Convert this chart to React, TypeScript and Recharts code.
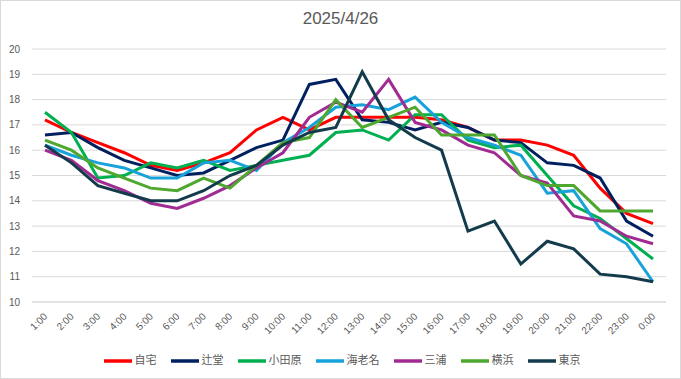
import React from 'react';
import { LineChart, Line, XAxis, YAxis, CartesianGrid, Legend } from 'recharts';

const hours = [
  '1:00', '2:00', '3:00', '4:00', '5:00', '6:00', '7:00', '8:00', '9:00', '10:00', '11:00', '12:00',
  '13:00', '14:00', '15:00', '16:00', '17:00', '18:00', '19:00', '20:00', '21:00', '22:00', '23:00', '0:00',
];

const jitaku = [17.2, 16.7, 16.3, 15.9, 15.4, 15.2, 15.5, 15.9, 16.8, 17.3, 16.8, 17.3, 17.3, 17.3, 17.3, 17.2, 16.9, 16.4, 16.4, 16.2, 15.8, 14.5, 13.5, 13.1];
const tsujido = [16.6, 16.7, 16.1, 15.6, 15.3, 15.0, 15.1, 15.6, 16.1, 16.4, 18.6, 18.8, 17.2, 17.1, 16.8, 17.1, 16.9, 16.4, 16.3, 15.5, 15.4, 14.9, 13.2, 12.6];
const odawara = [17.5, 16.7, 14.9, 15.0, 15.5, 15.3, 15.6, 15.2, 15.4, 15.6, 15.8, 16.7, 16.8, 16.4, 17.4, 17.4, 16.4, 16.1, 16.2, 15.0, 13.8, 13.3, 12.5, 11.7];
const ebina = [16.2, 15.8, 15.5, 15.3, 14.9, 14.9, 15.5, 15.6, 15.2, 16.3, 16.9, 17.7, 17.8, 17.6, 18.1, 17.1, 16.5, 16.2, 15.8, 14.3, 14.4, 12.9, 12.3, 10.8];
const miura = [16.0, 15.6, 14.8, 14.4, 13.9, 13.7, 14.1, 14.6, 15.3, 15.9, 17.3, 17.9, 17.5, 18.8, 17.1, 16.8, 16.2, 15.9, 15.0, 14.7, 13.4, 13.2, 12.6, 12.3];
const yokohama = [16.4, 16.0, 15.3, 14.9, 14.5, 14.4, 14.9, 14.5, 15.4, 16.3, 16.5, 18.0, 16.9, 17.3, 17.7, 16.6, 16.6, 16.6, 15.0, 14.6, 14.6, 13.6, 13.6, 13.6];
const tokyo = [16.2, 15.5, 14.6, 14.3, 14.0, 14.0, 14.4, 15.0, 15.4, 16.2, 16.7, 16.9, 19.1, 17.2, 16.5, 16.0, 12.8, 13.2, 11.5, 12.4, 12.1, 11.1, 11.0, 10.8];

const yTicks = [10, 11, 12, 13, 14, 15, 16, 17, 18, 19, 20];

const series = [
  { name: '自宅', values: jitaku, color: '#FF0000' },
  { name: '辻堂', values: tsujido, color: '#002060' },
  { name: '小田原', values: odawara, color: '#00B050' },
  { name: '海老名', values: ebina, color: '#17A2DA' },
  { name: '三浦', values: miura, color: '#A02B93' },
  { name: '横浜', values: yokohama, color: '#4EA72E' },
  { name: '東京', values: tokyo, color: '#133B4C' },
];

const data = hours.map((hour, i) => {
  const row: Record<string, string | number> = { hour };
  series.forEach((s) => {
    row[s.name] = s.values[i];
  });
  return row;
});

// keep the legend in series order instead of sorting by name
const legendOrder = (item: any) => series.findIndex((s) => s.name === item.value);

const font = "'Liberation Sans', Arial, 'Noto Sans CJK JP', sans-serif";
const textColor = '#595959';
const gridColor = '#d9d9d9';

export default function App() {
  return (
    <div style={{ position: 'relative', width: 681, height: 379, background: '#fff', fontFamily: font }}>
      <style>{'body{margin:0}'}</style>
      <div
        style={{
          position: 'absolute',
          top: 8,
          left: 0,
          width: 681,
          textAlign: 'center',
          fontSize: 17,
          color: textColor,
          lineHeight: '22px',
        }}
      >
        2025/4/26
      </div>
      <LineChart
        width={681}
        height={379}
        data={data}
        margin={{ top: 49, right: 15, left: 0, bottom: 4 }}
        style={{ position: 'absolute', top: 0, left: 0 }}
      >
        <CartesianGrid vertical={false} stroke={gridColor} strokeWidth={1} />
        <XAxis
          dataKey="hour"
          interval={0}
          height={45}
          padding={{ left: 13, right: 13 }}
          axisLine={{ stroke: gridColor }}
          tickLine={false}
          angle={-45}
          textAnchor="end"
          tick={{ fill: textColor, fontSize: 10, fontFamily: font, dx: -2, dy: 2 }}
        />
        <YAxis
          width={32}
          domain={[10, 20]}
          ticks={yTicks}
          interval={0}
          axisLine={false}
          tickLine={false}
          tickMargin={6}
          tick={{ fill: textColor, fontSize: 10, fontFamily: font }}
        />
        <Legend
          verticalAlign="bottom"
          align="center"
          iconType="plainline"
          iconSize={28}
          itemSorter={legendOrder}
          wrapperStyle={{ fontSize: 11, fontFamily: font, left: 16 }}
          formatter={(value) => (
            <span style={{ color: textColor, marginLeft: -1, paddingRight: 4 }}>{value}</span>
          )}
        />
        {series.map((s) => (
          <Line
            key={s.name}
            type="linear"
            dataKey={s.name}
            stroke={s.color}
            strokeWidth={3}
            dot={false}
            activeDot={false}
            isAnimationActive={false}
          />
        ))}
      </LineChart>
      <div
        style={{
          position: 'absolute',
          top: 0,
          left: 0,
          width: 681,
          height: 379,
          boxSizing: 'border-box',
          border: `1px solid ${gridColor}`,
          pointerEvents: 'none',
        }}
      />
    </div>
  );
}
